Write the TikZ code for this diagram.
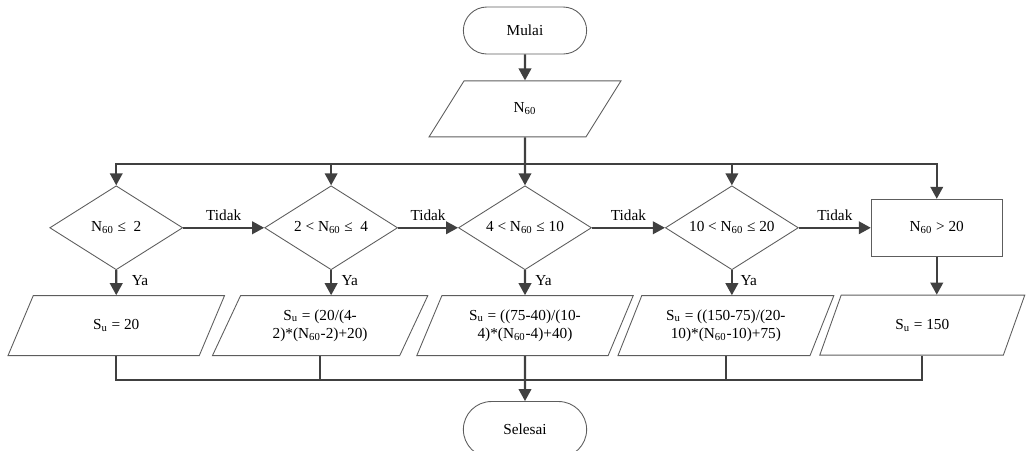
\documentclass[tikz,border=0pt]{standalone}
\usepackage{fontspec}
\setmainfont{Liberation Serif}
\usepackage{xcolor}
\usetikzlibrary{positioning,arrows.meta,shapes.geometric,shapes.misc,calc}
\definecolor{lc}{HTML}{404040}
\newcommand{\Nsn}{N\textsubscript{60}}
\newcommand{\Su}{S\textsubscript{u}}

\begin{document}
\begin{tikzpicture}[font=\fontsize{8.7}{10.4}\selectfont,
  term/.style={draw=lc!85, line width=0.5pt, rounded rectangle, minimum width=2.7cm, minimum height=0.94cm},
  io/.style={draw=lc!85, line width=0.5pt, trapezium, trapezium left angle=64, trapezium right angle=116,
    trapezium stretches=true, minimum width=4.34cm, minimum height=1.2cm, align=center, inner sep=1pt},
  dec/.style={draw=lc!85, line width=0.5pt, diamond, aspect=1.58, minimum width=2.66cm, minimum height=1.68cm, inner sep=0pt},
  cbox/.style={draw=lc!85, line width=0.5pt, minimum width=2.62cm, minimum height=1.14cm},
  arr/.style={draw=lc, line width=1.2pt, -{Triangle[length=2.4mm,width=2.5mm]}},
  link/.style={draw=lc, line width=0.9pt}]
\useasboundingbox (0,0) rectangle (20.72,-9);
\node[term] (start) at (10.5,-0.61) {Mulai};
\node[io, minimum width=3.84cm, minimum height=1.12cm, below=0.52cm of start] (inp) {\Nsn};
% keputusan
\node[dec, below=0.96cm of inp] (d3) {4 < \Nsn\ ≤ 10};
\node[dec, left=1.2cm of d3] (d2) {2 < \Nsn\ ≤\ \ 4};
\node[dec, left=1.62cm of d2] (d1) {\Nsn\ ≤\ \ 2};
\node[dec, right=1.46cm of d3] (d4) {10 < \Nsn\ ≤ 20};
\node[cbox, right=1.44cm of d4] (r5) {\Nsn\ > 20};
% hasil
\node[io, below=0.5cm of d1] (p1) {\Su\ = 20};
\node[io, below=0.5cm of d2, xshift=-0.22cm] (p2) {\Su\ = (20/(4-\\2)*(\Nsn-2)+20)};
\node[io, below=0.5cm of d3] (p3) {\Su\ = ((75-40)/(10-\\4)*(\Nsn-4)+40)};
\node[io, below=0.5cm of d4, xshift=-0.12cm] (p4) {\Su\ = ((150-75)/(20-\\10)*(\Nsn-10)+75)};
\node[io, minimum width=4.1cm, below=0.76cm of r5, xshift=-0.29cm] (p5) {\Su\ = 150};
\node[term, minimum height=1.12cm, below=0.9cm of p3] (stop) {Selesai};
\coordinate[below=0.54cm of inp.south] (bt);
\coordinate[below=0.48cm of p3.south] (bb);
\draw[arr] (start) -- (inp);
\draw[arr] (inp) -- (d3);
\draw[arr] (bt) -| (d1); \draw[arr] (bt) -| (d2);
\draw[arr] (bt) -| (d4); \draw[arr] (bt) -| (r5);
\draw[arr] (d1) -- node[above]{Tidak} (d2);
\draw[arr] (d2) -- node[above]{Tidak} (d3);
\draw[arr] (d3) -- node[above]{Tidak} (d4);
\draw[arr] (d4) -- node[above]{Tidak} (r5);
\draw[arr] (d1) -- node[right, xshift=5pt, pos=0.4]{Ya} (p1);
\draw[arr] (d2.south) -- node[right, xshift=2pt, pos=0.4]{Ya} (d2.south |- p2.north);
\draw[arr] (d3) -- node[right, xshift=2pt, pos=0.4]{Ya} (p3);
\draw[arr] (d4.south) -- node[right, xshift=1pt, pos=0.4]{Ya} (d4.south |- p4.north);
\draw[arr] (r5.south) -- (r5.south |- p5.north);
\draw[link] (p1) |- (bb); \draw[link] (p2) |- (bb);
\draw[link] (p4) |- (bb); \draw[link] (p5) |- (bb);
\draw[arr] (p3) -- (stop);
\end{tikzpicture}
\end{document}
